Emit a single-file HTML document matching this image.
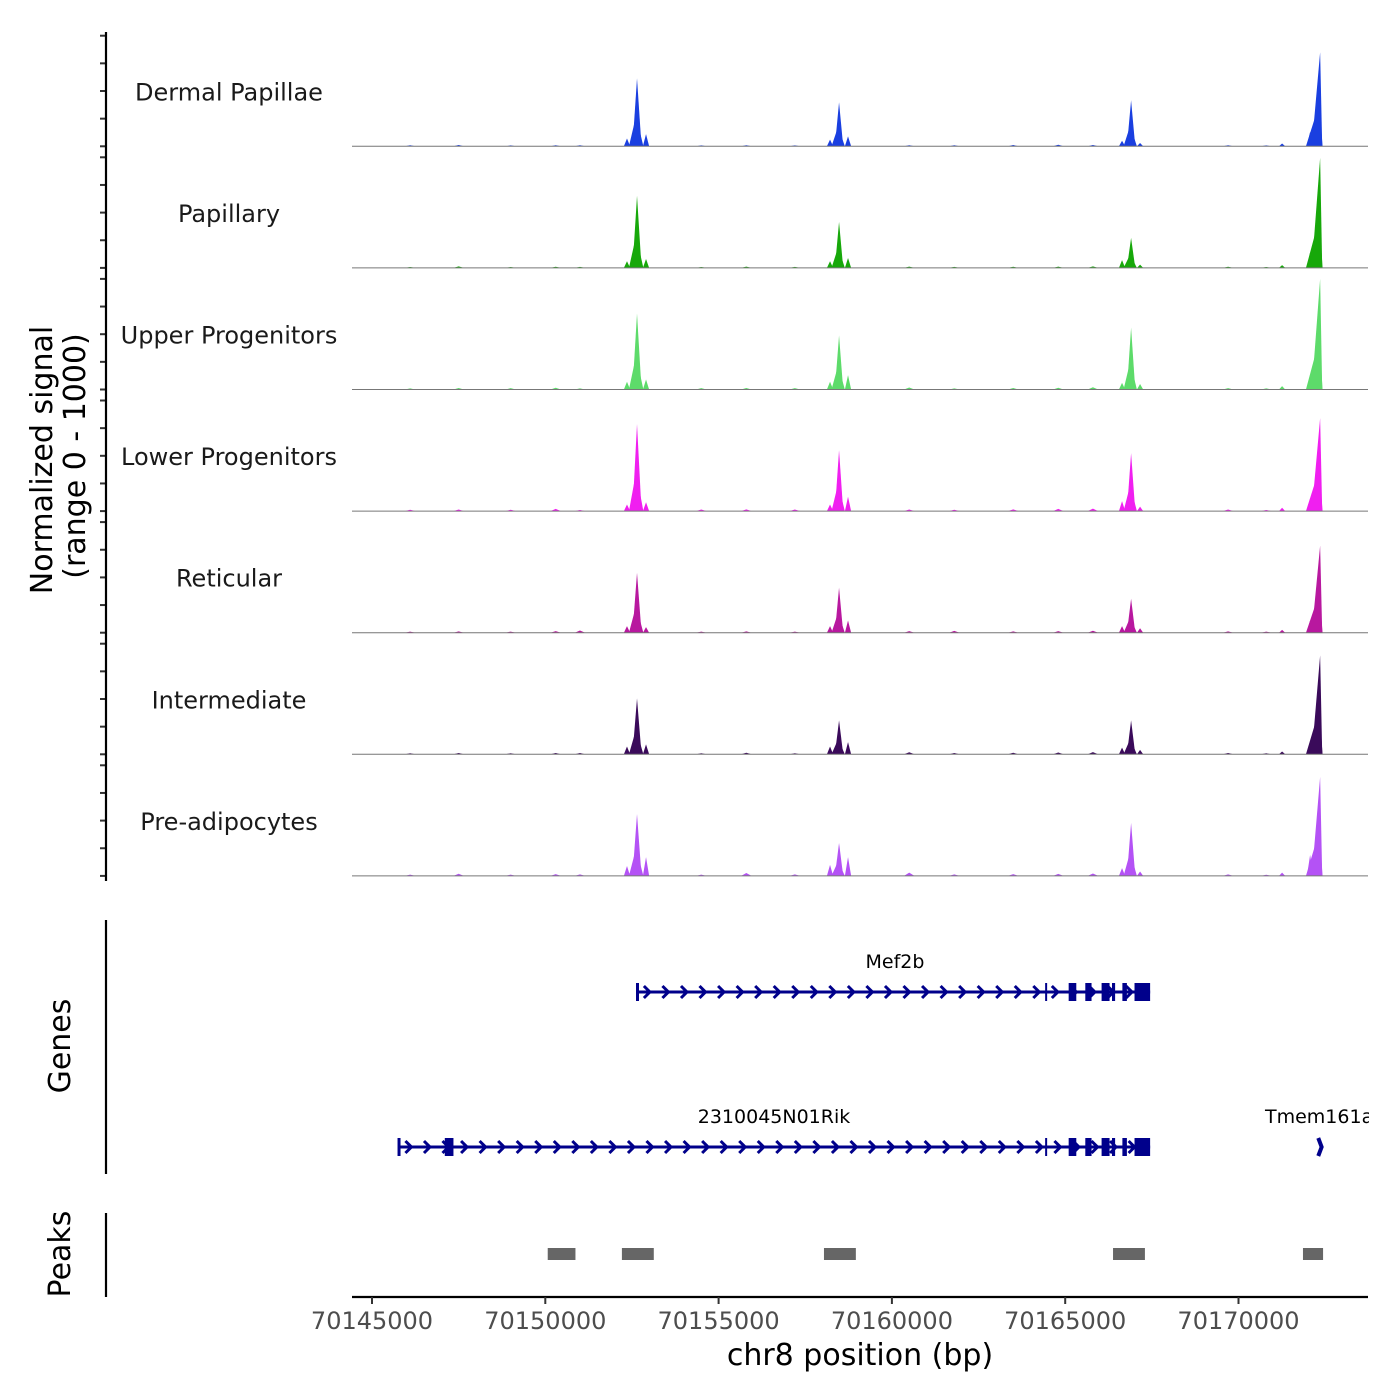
<!DOCTYPE html>
<html><head><meta charset="utf-8">
<style>
html,body{margin:0;padding:0;background:#fff;}
svg{display:block;font-family:"DejaVu Sans","Liberation Sans",sans-serif;}
</style></head>
<body>
<svg id="chart" width="1400" height="1400" viewBox="0 0 1400 1400" xmlns="http://www.w3.org/2000/svg">
<rect width="1400" height="1400" fill="#fff"/>
<g id="tracks"></g>
<g id="genes"></g>
<g id="peaks"></g>
<g id="axes"></g>
<text transform="translate(52,460) rotate(-90)" text-anchor="middle" font-size="30" fill="#000">Normalized signal</text>
<text transform="translate(85,456) rotate(-90)" text-anchor="middle" font-size="30" fill="#000">(range 0 - 1000)</text>
<text transform="translate(70,1046) rotate(-90)" text-anchor="middle" font-size="30" fill="#000">Genes</text>
<text transform="translate(70,1254) rotate(-90)" text-anchor="middle" font-size="30" fill="#000">Peaks</text>
<text x="860" y="1365" text-anchor="middle" font-size="30" fill="#000">chr8 position (bp)</text>
</svg>
<script>
const trackNames = ["Dermal Papillae","Papillary","Upper Progenitors","Lower Progenitors","Reticular","Intermediate","Pre-adipocytes"];
const trackColors = ["#1a3fe0","#17a80a","#5ddb6a","#f01ff0","#b8189f","#3a0a5a","#b452f5"];
const mainPeakPos = [70152646,70158475,70166901,70172355];
const mainPeakLeftHW = [130,120,120,240];
const mainPeakRightHW = [130,120,120,60];
const mainHeights = [
 [615,398,416,850],
 [651,416,271,995],
 [687,488,560,1000],
 [787,551,524,841],
 [542,407,307,787],
 [506,307,307,895],
 [560,298,479,895]];
const sidePeakPos = [70152357,70152906,70158215,70158734,70166640,70167160,70172066,70171258];
const sideHeights = [
 [70,110,60,90,50,30,130,25],
 [60,80,60,90,70,30,140,25],
 [70,90,70,130,60,50,120,30],
 [60,80,60,130,90,40,110,30],
 [60,50,60,110,60,40,110,25],
 [70,90,70,110,60,40,100,25],
 [90,170,100,170,70,40,190,30]];
const noisePos = [70146100,70147500,70149000,70150300,70151000,70154500,70155800,70157200,70160500,70161800,70163500,70164800,70165800,70169700,70170800];
const noiseHeights = [
 [10,12,8,10,9,8,10,8,10,9,12,14,12,10,8],
 [8,14,8,10,9,8,12,9,12,9,10,12,14,10,8],
 [10,14,12,16,10,12,14,12,18,10,14,16,20,12,10],
 [12,14,12,20,10,14,16,14,14,12,16,20,22,14,10],
 [10,12,10,14,20,10,12,10,14,16,12,14,18,12,10],
 [10,12,10,12,12,10,14,10,18,12,14,16,20,12,10],
 [12,20,12,16,14,12,26,14,30,14,16,18,22,14,10]];
const xTicks = [70145000,70150000,70155000,70160000,70165000,70170000];
const xTickLabels = ["70145000","70150000","70155000","70160000","70165000","70170000"];
const mef2bExons = [[70165100,70165320],[70165580,70165760],[70166050,70166280],[70166350,70166440],[70166650,70166780],[70167000,70167450]];
const rikExons = [[70147100,70147350],[70165100,70165320],[70165580,70165760],[70166050,70166280],[70166350,70166440],[70166650,70166780],[70167000,70167450]];
const peakRegions = [[70150070,70150870],[70152210,70153130],[70158040,70158960],[70166380,70167300],[70171860,70172440]];

const NS="http://www.w3.org/2000/svg";
function X(bp){return 372+(bp-70145000)*173.3/5000;}
const plotL=352, plotR=1368;
const baselines=[146.3,267.9,389.5,511.1,632.7,754.3,875.9];
function Y(i,v){return baselines[i]-v*0.1106;}
function mk(tag,attrs,parent){const e=document.createElementNS(NS,tag);for(const k in attrs)e.setAttribute(k,attrs[k]);parent.appendChild(e);return e;}

const tracks=document.getElementById('tracks');
const axes=document.getElementById('axes');
for(let i=0;i<7;i++){
  const g=mk('g',{},tracks);
  
  
  const c=trackColors[i];
  function tri(pos,lhw,rhw,v){
    const p=mk('path',{d:`M${X(pos-lhw)},${baselines[i]}L${X(pos)},${Y(i,v)}L${X(pos+rhw)},${baselines[i]}Z`,fill:c},g);
    
    
  }
  for(let k=0;k<noisePos.length;k++) tri(noisePos[k],150,150,noiseHeights[i][k]);
  for(let k=0;k<sidePeakPos.length;k++) tri(sidePeakPos[k],90,90,sideHeights[i][k]);
  for(let k=0;k<mainPeakPos.length;k++){
    tri(mainPeakPos[k],mainPeakLeftHW[k],mainPeakRightHW[k],mainHeights[i][k]);
    tri(mainPeakPos[k]-25,mainPeakLeftHW[k]*1.6,mainPeakRightHW[k]*1.6,mainHeights[i][k]*0.45);
  }
  const bl=mk('line',{x1:plotL,x2:plotR,y1:baselines[i],y2:baselines[i],stroke:'#777','stroke-width':1},g);
  
  
  const lb=mk('text',{x:229,y:baselines[i]-46,'text-anchor':'middle','font-size':24,fill:'#1a1a1a'},g);
  
  
  lb.textContent=trackNames[i];
  for(let t=0;t<=4;t++){
    const ty=Y(i,t*250);
    const tk=mk('line',{x1:100,x2:106,y1:ty,y2:ty,stroke:'#333','stroke-width':2},axes);
    
    
  }
}
mk('line',{x1:106,x2:106,y1:32,y2:881,stroke:'#000','stroke-width':2.2},axes);
mk('line',{x1:106,x2:106,y1:920,y2:1174,stroke:'#000','stroke-width':2.2},axes);
mk('line',{x1:106,x2:106,y1:1213,y2:1297,stroke:'#000','stroke-width':2.2},axes);
const xl=mk('line',{x1:plotL,x2:plotR,y1:1297,y2:1297,stroke:'#000','stroke-width':2.2},axes);


for(let k=0;k<xTicks.length;k++){
  const tx=X(xTicks[k]);
  const t=mk('line',{x1:tx,x2:tx,y1:1297,y2:1304,stroke:'#333','stroke-width':2},axes);
  
  
  const tl=mk('text',{x:tx,y:1329,'text-anchor':'middle','font-size':24,fill:'#4d4d4d'},axes);
  
  
  tl.textContent=xTickLabels[k];
}

const genes=document.getElementById('genes');
const gc='#00008b';
function gene(name,start,end,y,exons,label,lx,anchor){
  const g=mk('g',{},genes);
  
  
  mk('line',{x1:X(start),x2:X(end),y1:y,y2:y,stroke:gc,'stroke-width':3},g);
  mk('line',{x1:X(start),x2:X(start),y1:y-9,y2:y+9,stroke:gc,'stroke-width':3},g);
  for(let p=start+300;p<end-100;p+=535){
    const cx=X(p);
    mk('path',{d:`M${cx-4},${y-6}L${cx+2},${y}L${cx-4},${y+6}`,fill:'none',stroke:gc,'stroke-width':3},g);
  }
  for(const e of exons){
    mk('rect',{x:X(e[0]),y:y-9,width:Math.max(3,X(e[1])-X(e[0])),height:18,fill:gc},g);
  }
  const t=mk('text',{x:lx,y:y-24,'text-anchor':anchor,'font-size':19,fill:'#000'},g);
  t.textContent=label;
}
gene('Mef2b',70152660,70167450,992,mef2bExons,'Mef2b',895,'middle');
mk('line',{x1:X(70164450),x2:X(70164450),y1:983,y2:1001,stroke:gc,'stroke-width':2},genes);
gene('Rik',70145780,70167450,1147,rikExons,'2310045N01Rik',774,'middle');
mk('line',{x1:X(70164450),x2:X(70164450),y1:1138,y2:1156,stroke:gc,'stroke-width':2},genes);
const tm=mk('g',{},genes);


mk('path',{d:`M${X(70172330)-1},1138L${X(70172370)+1},1147L${X(70172330)-1},1156`,fill:'none',stroke:gc,'stroke-width':4},tm);
const tmt=mk('text',{x:1265,y:1123,'font-size':19,fill:'#000'},tm);
tmt.textContent='Tmem161a';
mk('rect',{x:plotR+1,y:1100,width:40,height:30,fill:'#fff'},tm);

const peaks=document.getElementById('peaks');
for(const r of peakRegions){
  const p=mk('rect',{x:X(r[0]),y:1248,width:X(r[1])-X(r[0]),height:12,fill:'#666'},peaks);
  
  
}
</script>
</body></html>
